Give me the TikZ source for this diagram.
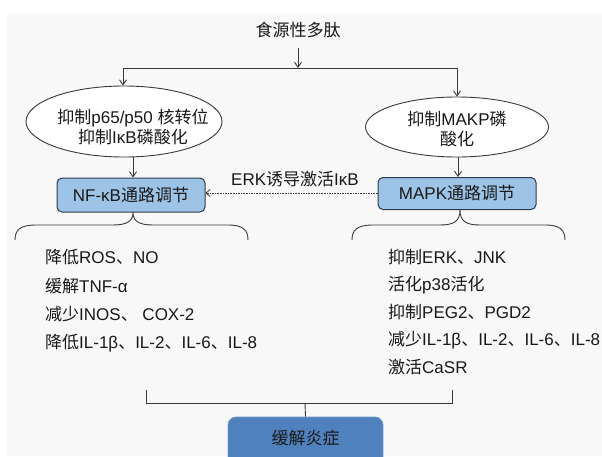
\documentclass[tikz,border=0pt]{standalone}
\usepackage{fontspec}
\setmainfont{Liberation Sans}
\newfontfamily\cjk{Noto Sans CJK SC}
\newcommand\zh[1]{{\cjk #1}}
\usetikzlibrary{arrows.meta,shapes.geometric}
\definecolor{bgray}{HTML}{F8F8F8}
\definecolor{lnc}{HTML}{3A3A3A}
\definecolor{lightblue}{HTML}{9DC3E6}
\definecolor{boxborder}{HTML}{2E3B4A}
\definecolor{darkblue}{HTML}{4F81BD}
\tikzset{
  txt/.style={font=\fontsize{17}{20.5}\selectfont, inner sep=0pt, text=black!90},
  ltxt/.style={txt, anchor=west},
  conn/.style={draw=lnc, line width=0.9pt},
  arr/.style={conn, -{Straight Barb[length=5pt,width=7pt,line width=0.9pt]}},
  ell/.style={ellipse, draw=lnc, line width=0.9pt, fill=white, inner sep=0pt},
  pbox/.style={rectangle, rounded corners=5pt, draw=boxborder, line width=1pt, fill=lightblue, inner sep=0pt},
}
\begin{document}
\begin{tikzpicture}[x=1pt,y=-1pt]
\useasboundingbox (0,0) rectangle (602,456);
\fill[white] (0,0) rectangle (602,456);
\fill[bgray] (7,13) rectangle (602,456);

% title
\node[txt] (title) at (298,30) {\zh{食源性多肽}};
\coordinate (split) at (298,68);
\coordinate (lcorner) at (123,68);
\coordinate (rcorner) at (457,68);

% ellipses
\node[ell, minimum width=196pt, minimum height=71pt] (e1) at (124,121.5) {};
\node[txt, align=center] (t1) at (133,127) {\zh{抑制}p65/p50 \zh{核转位}\\\zh{抑制}IκB\zh{磷酸化}};
\node[ell, minimum width=183pt, minimum height=60pt] (e2) at (457,127) {};
\node[txt, align=center] (t2) at (457,129) {\zh{抑制}MAKP\zh{磷}\\\zh{酸化}};

% connectors top
\draw[arr] (title.south |- 0,48) -- (split);
\draw[conn] (lcorner) -- (rcorner);
\draw[arr] (lcorner) -- (e1.north -| lcorner);
\draw[arr] (rcorner) -- (e2.north);

% pathway boxes
\node[pbox, minimum width=148pt, minimum height=34pt] (nf) at (131,195) {};
\node[txt] (nft) at (131,195) {NF-κB\zh{通路调节}};
\node[pbox, minimum width=158pt, minimum height=32pt] (mapk) at (457,193.5) {};
\node[txt] (mapkt) at (457,193.5) {MAPK\zh{通路调节}};

\draw[arr] (133,157) -- (nf.north -| 133,0);
\draw[arr] (458,157) -- (mapk.north -| 458,0);

\draw[conn, line width=0.7pt, dash pattern=on 1.6pt off 1pt, -{Straight Barb[length=4pt,width=7pt,line width=0.8pt]}] (mapk.west |- 0,193) -- (nf.east |- 0,193);
\node[txt] (erk) at (295,179) {ERK\zh{诱导激活}IκB};

% braces
\draw[conn] (15,240) .. controls (15,230) and (20,225) .. (36,225) -- (113,225)
  .. controls (127,225) and (133,221) .. (nf.south -| 133,0)
  .. controls (133,221) and (139,225) .. (153,225) -- (228,225)
  .. controls (243,225) and (248,230) .. (248,240);
\draw[conn] (352,240) .. controls (352,230) and (357,225) .. (373,225) -- (440,225)
  .. controls (454,225) and (460,221) .. (mapk.south -| 460,0)
  .. controls (460,221) and (466,225) .. (480,225) -- (545,225)
  .. controls (560,225) and (565,230) .. (565,240);

% left list
\node[ltxt] (l1) at (45,257) {\zh{降低}ROS\zh{、}NO};
\node[ltxt] (l2) at (45,286) {\zh{缓解}TNF-α};
\node[ltxt] (l3) at (45,314.5) {\zh{减少}INOS\zh{、} COX-2};
\node[ltxt] (l4) at (45,343) {\zh{降低}IL-1β\zh{、}IL-2\zh{、}IL-6\zh{、}IL-8};

% right list
\node[ltxt] (r1) at (388,257) {\zh{抑制}ERK\zh{、}JNK};
\node[ltxt] (r2) at (388,285) {\zh{活化}p38\zh{活化}};
\node[ltxt] (r3) at (388,312) {\zh{抑制}PEG2\zh{、}PGD2};
\node[ltxt] (r4) at (388,340) {\zh{减少}IL-1β\zh{、}IL-2\zh{、}IL-6\zh{、}IL-8};
\node[ltxt] (r5) at (388,367) {\zh{激活}CaSR};

% bottom bracket
\coordinate (bl) at (146,390);
\coordinate (br) at (452,390);
\coordinate (bm) at (305,403);
\draw[conn] (bl) -- (146,403) -- (452,403) -- (br);

\begin{scope}
\clip (0,0) rectangle (602,456);
\node[rectangle, rounded corners=8pt, fill=darkblue, draw=darkblue!80!white, line width=0.8pt, minimum width=155pt, minimum height=56pt, inner sep=0pt] (res) at (305.5,445) {};
\node[txt] (rest) at (305.5,438) {\zh{缓解炎症}};
\end{scope}
\draw[conn] (bm) -- (res.north);
\end{tikzpicture}
\end{document}
